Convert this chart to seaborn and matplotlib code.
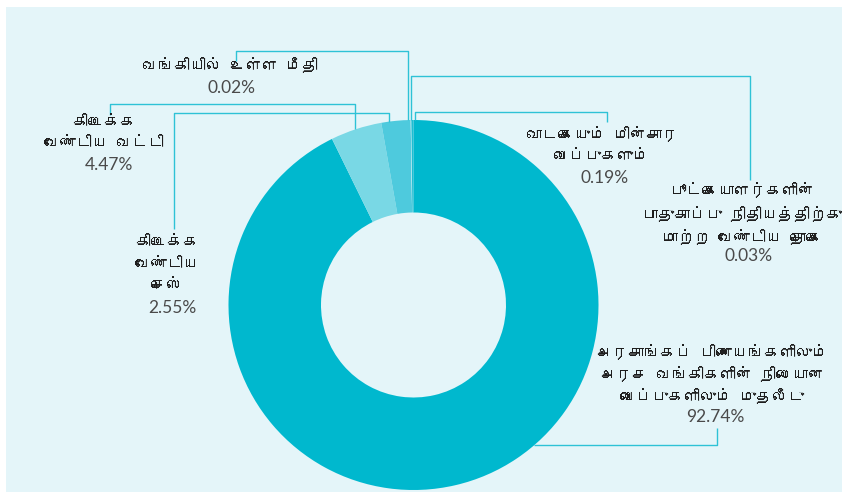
import matplotlib
matplotlib.use("Agg")
import matplotlib.pyplot as plt
import seaborn as sns
from matplotlib import font_manager
from matplotlib.patches import Rectangle

# ---- data -------------------------------------------------------------
categories = [
    "அரசாங்கப் பிணையங்களிலும்\nஅரச வங்கிகளின் நிலையான\nவைப்புகளிலும் முதலீடு",
    "கிடைக்க\nவேண்டிய வட்டி",
    "கிடைக்க\nவேண்டிய\nசெஸ்",
    "வங்கியில் உள்ள மீதி",
    "பூட்கையாளர்களின்\nபாதுகாப்பு நிதியத்திற்கு\nமாற்ற வேண்டிய தொகை",
    "வாடகையும் மின்சார\nவைப்புகளும்",
]
shares = [92.74, 4.47, 2.55, 0.02, 0.03, 0.19]
share_labels = ["92.74%", "4.47%", "2.55%", "0.02%", "0.03%", "0.19%"]

# ---- styling ----------------------------------------------------------
slice_colors = ["#00B8CE", "#79D8E5", "#4ECADD", "#DDF3F7", "#EBF9FB", "#1CBED3"]
BG = "#E4F5F9"
LEADER = "#2EC2D6"
TEXT = "#1E1E1E"
PCT = "#4A4A4A"


def find_tamil_family():
    try:
        from fontTools.ttLib import TTFont
    except Exception:
        return None
    seen = set()
    for entry in font_manager.fontManager.ttflist:
        if entry.fname in seen:
            continue
        seen.add(entry.fname)
        try:
            font = TTFont(entry.fname, fontNumber=0, lazy=True)
            cmap = font.getBestCmap() or {}
            if 0x0B95 in cmap and 0x0BCD in cmap:
                return entry.name
        except Exception:
            continue
    return None


sns.set_theme(style="white")
tamil = find_tamil_family()
tamil_families = ([tamil] if tamil else []) + ["Noto Sans", "DejaVu Sans"]
plt.rcParams["font.family"] = tamil_families

W, H = 842, 492
fig = plt.figure(figsize=(W / 100, H / 100), dpi=100, facecolor="white")
ax = fig.add_axes([0, 0, 1, 1])

# panel background
ax.add_patch(Rectangle((6, 0), W - 6, H - 7, facecolor=BG, edgecolor="none", zorder=0))

# donut (image y measured downward; convert to axis y)
cx, cy_img, R = 413.5, 305.0, 185.0
cy = H - cy_img
ax.pie(
    shares,
    colors=slice_colors,
    startangle=90,
    counterclock=False,
    radius=R,
    center=(cx, cy),
    wedgeprops=dict(width=R * 0.5, linewidth=0, antialiased=True),
)
ax.set_xlim(0, W)
ax.set_ylim(0, H)
ax.set_aspect("equal")
ax.axis("off")


def Y(y_img):
    return H - y_img


def on_rim_top(x):
    """Image-space y of the outer rim directly above x."""
    return cy_img - (R ** 2 - (x - cx) ** 2) ** 0.5


def leader(points):
    xs = [p[0] for p in points]
    ys = [Y(p[1]) for p in points]
    ax.plot(xs, ys, color=LEADER, lw=1.0, solid_capstyle="butt", zorder=3)


# leader lines: label elbow -> outer rim
leader([(236, 61), (236, 51), (408, 51), (408, on_rim_top(408))])           # 0.02
leader([(410.5, on_rim_top(410.5)), (410.5, 76), (750, 76), (750, 180)])    # 0.03
leader([(415, on_rim_top(415)), (415, 112), (607, 112), (607, 122)])        # 0.19
leader([(110, 115), (110, 104), (355, 104), (355, on_rim_top(355))])        # 4.47
leader([(174, 229), (174, 113), (389, 113), (389, on_rim_top(389))])        # 2.55
y92 = 445
x92 = cx + (R ** 2 - (y92 - cy_img) ** 2) ** 0.5
leader([(717, 428), (717, y92), (x92, y92)])                                 # 92.74

# label layout: (x centre, first-line y, line step, percent x, percent y)
layout = {
    0: (712, 352, 22, 715, 417),
    1: (104, 122, 21.5, 109, 165),
    2: (167, 242, 22, 172, 308),
    3: (230, 65, 22, 232, 88),
    4: (742, 190, 23.5, 749, 256),
    5: (602, 134, 23, 605, 178),
}

for i, (name, pct) in enumerate(zip(categories, share_labels)):
    x0, y0, step, px, py = layout[i]
    for k, line in enumerate(name.split("\n")):
        ax.text(x0, Y(y0 + k * step), line, ha="center", va="center",
                fontsize=11.5, color=TEXT, family=tamil_families, zorder=4)
    ax.text(px, Y(py), pct, ha="center", va="center", fontsize=12.5,
            color=PCT, family=["Lato", "DejaVu Sans"], fontweight="normal", zorder=4)

fig.savefig("out.png", dpi=100, facecolor="white")
